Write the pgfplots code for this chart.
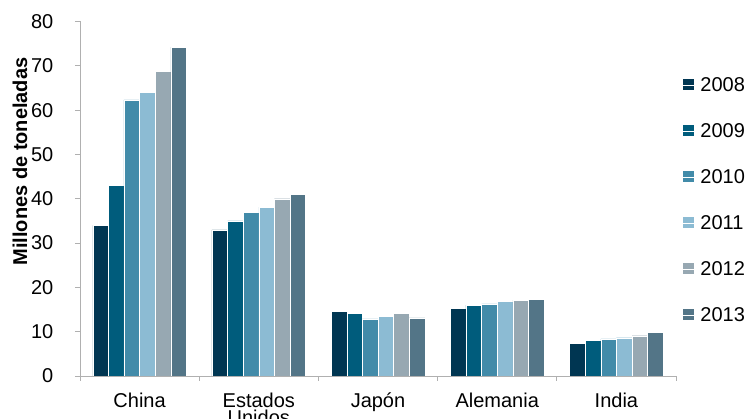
\documentclass[border=0pt]{standalone}
\usepackage{fontspec}
\setmainfont{Liberation Sans}
\usepackage{pgfplots}
\pgfplotsset{compat=1.18}
\definecolor{cA}{HTML}{003652}
\definecolor{cB}{HTML}{005C7C}
\definecolor{cC}{HTML}{428BA9}
\definecolor{cD}{HTML}{8CBBD3}
\definecolor{cE}{HTML}{97A8B2}
\definecolor{cF}{HTML}{537587}
\definecolor{axgray}{HTML}{B0B0B0}
\begin{document}
\begin{tikzpicture}
\begin{axis}[
  scale only axis,
  width=596pt, height=354.5pt,
  ybar=0pt, bar width=0.131,
  xmin=-0.5, xmax=4.5,
  ymin=0, ymax=80,
  ytick={0,10,...,80},
  xtick={0,1,2,3,4},
  xticklabels={China,{Estados\\Unidos},Japón,Alemania,India},
  minor xtick={-0.5,0.5,1.5,2.5,3.5,4.5},
  major x tick style={draw=none},
  tick align=outside,
  major tick length=5pt, minor tick length=5pt,
  tick style={axgray, line width=0.8pt},
  separate axis lines,
  axis x line*=bottom, axis y line*=left,
  x axis line style={-, axgray, line width=0.8pt},
  y axis line style={-, axgray, line width=0.8pt},
  /pgf/number format/assume math mode=true,
  tick label style={font=\fontsize{20}{17.5}\selectfont, text=black},
  yticklabel style={inner sep=0pt, anchor=east, xshift=-21.5pt},
  xticklabel style={inner sep=0pt, anchor=north, yshift=-11.5pt, align=center},
  ylabel={\bfseries Millones de toneladas},
  ylabel style={at={(axis description cs:-0.1007,0.605)}, anchor=center, rotate=0, font=\fontsize{20}{22}\selectfont},
  legend style={at={(1.0117,0.496)}, anchor=west, draw=none, fill=none,
    font=\fontsize{20}{22}\selectfont, inner sep=0pt, row sep=30.5pt,
    nodes={inner sep=0pt}, cells={anchor=west}},
  legend image code/.code={\path[#1,draw=none] (0pt,-5pt) rectangle (11pt,6pt); \path (0pt,0pt) -- (17pt,0pt);},
  every axis plot/.append style={draw=white, line width=0.3pt},
]
\addplot[fill=cA] coordinates {(0,34.0) (1,33.0) (2,14.6) (3,15.2) (4,7.4)};
\addplot[fill=cB] coordinates {(0,43.0) (1,35.0) (2,14.1) (3,16.0) (4,8.0)};
\addplot[fill=cC] coordinates {(0,62.3) (1,37.0) (2,12.9) (3,16.3) (4,8.35)};
\addplot[fill=cD] coordinates {(0,64.0) (1,38.1) (2,13.4) (3,16.9) (4,8.65)};
\addplot[fill=cE] coordinates {(0,68.8) (1,40.0) (2,14.1) (3,17.1) (4,9.1)};
\addplot[fill=cF] coordinates {(0,74.2) (1,41.0) (2,13.1) (3,17.3) (4,9.8)};
\legend{2008,2009,2010,2011,2012,2013}
\end{axis}
\pgfresetboundingbox
\path[use as bounding box] (-80pt,-43pt) rectangle (669pt,376pt);
\end{tikzpicture}
\end{document}
